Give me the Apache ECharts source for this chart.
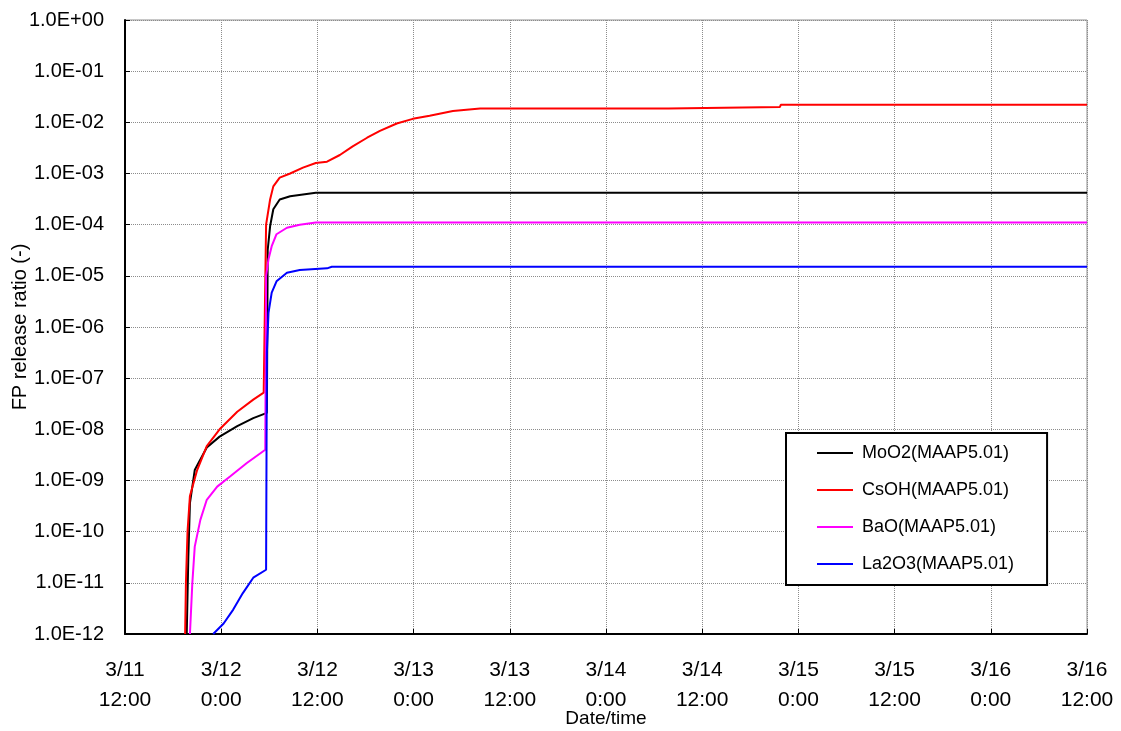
<!DOCTYPE html>
<html>
<head>
<meta charset="utf-8">
<script src="https://cdn.jsdelivr.net/npm/echarts@6/dist/echarts.min.js"></script>
<style>
html,body{margin:0;padding:0;background:#fff;}
#chart{width:1121px;height:731px;}
</style>
</head>
<body>
<div id="chart"></div>
<script>
// hours since 3/11 12:00
var xTickLabels = ['3/11\n12:00','3/12\n0:00','3/12\n12:00','3/13\n0:00','3/13\n12:00','3/14\n0:00','3/14\n12:00','3/15\n0:00','3/15\n12:00','3/16\n0:00','3/16\n12:00'];
var seriesNames = ['MoO2(MAAP5.01)','CsOH(MAAP5.01)','BaO(MAAP5.01)','La2O3(MAAP5.01)'];

var moo2T = [7.7, 7.9, 8.1, 8.7, 10.2, 11.8, 14.0, 16.0, 17.7, 17.8, 18.1, 18.5, 19.3, 20.6, 23.8, 120];
var moo2V = [1e-12, 3.2e-11, 3.6e-10, 1.6e-9, 4.4e-9, 7.2e-9, 1.15e-8, 1.66e-8, 2.1e-8, 3.2e-5, 9.3e-5, 2.0e-4, 3.1e-4, 3.6e-4, 4.2e-4, 4.2e-4];

var csohT = [7.5, 7.6, 7.7, 7.8, 8.1, 9.0, 10.2, 11.8, 14.0, 16.0, 17.3, 17.6, 18.1, 18.5, 19.3, 20.6, 22.2, 23.8, 25.2, 26.8, 28.4, 30.2, 31.8, 33.9, 35.9, 38.0, 40.9, 44.3, 67.8, 67.9, 81.7, 81.8, 120];
var csohV = [1e-12, 1e-11, 3.2e-11, 1e-10, 5e-10, 1.6e-9, 4.7e-9, 1e-8, 2.2e-8, 3.8e-8, 5.2e-8, 1e-4, 3.1e-4, 5.6e-4, 8.3e-4, 1.0e-3, 1.3e-3, 1.6e-3, 1.7e-3, 2.3e-3, 3.4e-3, 5.0e-3, 6.8e-3, 9.5e-3, 1.17e-2, 1.35e-2, 1.66e-2, 1.86e-2, 1.86e-2, 2.0e-2, 2.0e-2, 2.2e-2, 2.2e-2];

var baoT = [8.1, 8.4, 8.7, 9.4, 10.2, 11.5, 13.1, 15.2, 17.5, 17.6, 17.9, 18.3, 18.9, 20.2, 21.8, 23.8, 120];
var baoV = [1e-12, 1e-11, 5.1e-11, 1.7e-10, 4.2e-10, 7.6e-10, 1.2e-9, 2.2e-9, 4.0e-9, 1e-5, 2.1e-5, 3.8e-5, 6.5e-5, 8.7e-5, 1.0e-4, 1.1e-4, 1.1e-4];

var la2o3T = [11.0, 12.3, 13.5, 14.7, 16.0, 17.6, 17.7, 17.9, 18.3, 18.9, 20.2, 21.8, 25.2, 25.8, 120];
var la2o3V = [1e-12, 1.6e-12, 3.0e-12, 6.3e-12, 1.26e-11, 1.8e-11, 3.2e-7, 1.9e-6, 4.7e-6, 7.8e-6, 1.15e-5, 1.3e-5, 1.4e-5, 1.5e-5, 1.5e-5];

var seriesColors = ['#000000','#ff0000','#ff00ff','#0000ff'];

function zip(t, v){ return t.map(function(x,i){ return [x, v[i]]; }); }
var allData = [zip(moo2T,moo2V), zip(csohT,csohV), zip(baoT,baoV), zip(la2o3T,la2o3V)];

var font = 'Liberation Sans, Arial, sans-serif';
var chart = echarts.init(document.getElementById('chart'), null, {renderer:'canvas'});
chart.setOption({
  animation:false,
  backgroundColor:'#ffffff',
  textStyle:{fontFamily:font, color:'#000'},
  grid:{left:125, right:34, top:20, bottom:97, show:true, borderColor:'#909090', borderWidth:1, containLabel:false, outerBoundsMode:'none'},
  legend:{
    orient:'vertical', left:786, top:433,
    data:seriesNames.map(function(n){ return {name:n, icon:'rect'}; }),
    itemWidth:36, itemHeight:2, itemGap:17,
    padding:[10,33,11,31],
    borderColor:'#000', borderWidth:2, backgroundColor:'#fff',
    textStyle:{fontFamily:font, fontSize:18, color:'#000', lineHeight:20, padding:[0,0,0,4]},
    selectedMode:false
  },
  xAxis:{
    type:'value', min:0, max:120, interval:12,
    name:'Date/time', nameLocation:'middle', nameGap:75, nameMoveOverlap:false,
    nameTextStyle:{fontFamily:font, fontSize:19, color:'#000'},
    axisLine:{show:true, onZero:false, lineStyle:{color:'#000', width:2}},
    axisTick:{show:true, inside:true, length:5, lineStyle:{color:'#000', width:1}},
    axisLabel:{fontFamily:font, fontSize:21, lineHeight:30, margin:21, color:'#000',
      formatter:function(v){ var i = Math.round(v/12); return xTickLabels[i] || ''; }},
    splitLine:{show:true, lineStyle:{color:'#8c8c8c', type:'dotted', width:1}}
  },
  yAxis:{
    type:'log', logBase:10, min:1e-12, max:1, interval:1, splitNumber:12,
    name:'FP release ratio (-)', nameLocation:'middle', nameGap:95, nameMoveOverlap:false,
    nameTextStyle:{fontFamily:font, fontSize:20, color:'#000'},
    axisLine:{show:true, lineStyle:{color:'#000', width:2}},
    axisTick:{show:true, inside:true, length:5, lineStyle:{color:'#000', width:1}},
    minorTick:{show:false},
    axisLabel:{fontFamily:font, fontSize:20, margin:21, color:'#000',
      formatter:function(v){
        var e = Math.round(Math.log10(v));
        var s = e < 0 ? '-' : '+';
        var a = Math.abs(e);
        return '1.0E' + s + (a < 10 ? '0' + a : '' + a);
      }},
    splitLine:{show:true, lineStyle:{color:'#8c8c8c', type:'dotted', width:1}}
  },
  series: seriesNames.map(function(n, i){
    return {
      name:n, type:'line', data:allData[i], symbol:'none', showSymbol:false,
      lineStyle:{color:seriesColors[i], width:2}, itemStyle:{color:seriesColors[i]},
      clip:true, z:2+i
    };
  })
});
</script>
</body>
</html>
